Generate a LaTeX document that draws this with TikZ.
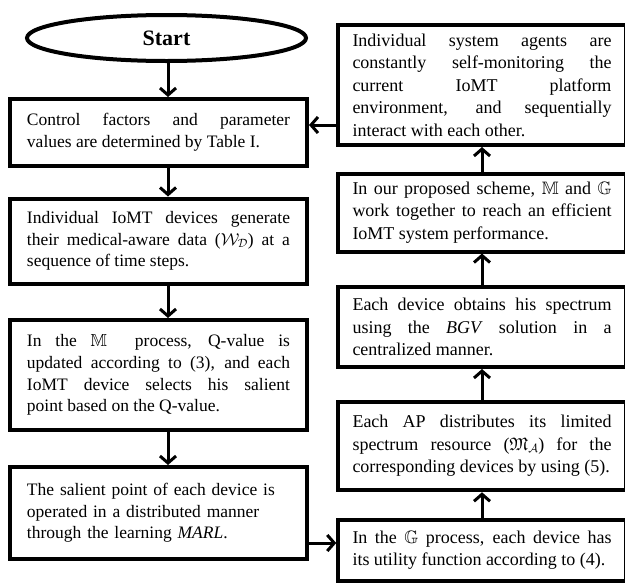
\documentclass[tikz,border=0pt]{standalone}
\usepackage{amssymb}
\usepackage{fontspec}
\setmainfont{Liberation Serif}
\usetikzlibrary{shapes.geometric,arrows.meta}
\tikzset{
  box/.style={draw, line width=4pt, inner sep=0pt, fill=white, align=justify,
    execute at begin node={\hyphenpenalty=10000\exhyphenpenalty=10000\tolerance=10000}},
  lbox/.style={box, minimum width=297pt, text width=263pt, font=\fontsize{17.5}{21.7}\selectfont},
  rbox/.style={box, minimum width=287.5pt, text width=259pt, font=\fontsize{18}{22.5}\selectfont},
  arr/.style={line width=3pt, -{Straight Barb[length=7pt,width=16pt]}}
}
\begin{document}
\begin{tikzpicture}[x=1pt,y=-1pt]
\useasboundingbox (0,0) rectangle (625,584);
\fill[white] (0,0) rectangle (625,584);

\node[draw, ellipse, line width=4pt, minimum width=279pt, minimum height=46pt, inner sep=0pt,
  font=\fontsize{22}{26}\selectfont\bfseries] (start) at (166.5,38) {Start};

\node[lbox, minimum height=67pt] (n1) at (158.5,132.5)
 {Control factors and parameter\linebreak values are determined by Table I.};
\node[lbox, minimum height=85pt] (n2) at (158.5,241)
 {Individual IoMT devices generate\linebreak their medical-aware data ($\mathcal{W}_{\mathcal{D}}$) at a\linebreak sequence of time steps.};
\node[lbox, minimum height=110pt] (n3) at (158.5,375)
 {In the $\mathbb{M}$\ \ process, Q-value is\linebreak updated according to (3), and each\linebreak IoMT device selects his salient\linebreak point based on the Q-value.};
\node[lbox, minimum height=92pt, align=left] (n4) at (158.5,513)
 {The salient point of each device is\\operated in a distributed manner\\through the learning \textit{MARL}.};

\node[rbox, minimum height=120pt] (r1) at (482,85)
 {Individual system agents are\linebreak constantly self-monitoring the\linebreak current IoMT platform\linebreak environment, and sequentially\linebreak interact with each other.};
\node[rbox, minimum height=78pt] (r2) at (482,212.5)
 {In our proposed scheme, $\mathbb{M}$ and $\mathbb{G}$\linebreak work together to reach an efficient\linebreak IoMT system performance.};
\node[rbox, minimum height=80pt] (r3) at (482,327)
 {Each device obtains his spectrum\linebreak using the \textit{BGV} solution in a\linebreak centralized manner.};
\node[rbox, minimum height=88.5pt] (r4) at (482,446)
 {Each AP distributes its limited\linebreak spectrum resource ($\mathfrak{M}_{\mathcal{A}}$) for the\linebreak corresponding devices by using (5).};
\node[rbox, minimum height=61pt] (r5) at (482,550)
 {In the $\mathbb{G}$ process, each device has\linebreak its utility function according to (4).};

\draw[arr] ([xshift=1.5pt]start.south) -- ([xshift=9.5pt]n1.north);
\draw[arr] ([xshift=9.5pt]n1.south) -- ([xshift=9.5pt]n2.north);
\draw[arr] ([xshift=9.5pt]n2.south) -- ([xshift=9.5pt]n3.north);
\draw[arr] ([xshift=9.5pt]n3.south) -- ([xshift=9.5pt]n4.north);
\draw[arr] ([yshift=-30pt]n4.east) -- ([yshift=-30pt]n4.east -| r5.west);
\draw[arr] (r5.north) -- (r4.south);
\draw[arr] (r4.north) -- (r3.south);
\draw[arr] (r3.north) -- (r2.south);
\draw[arr] (r2.north) -- (r1.south);
\draw[arr] ([yshift=-40pt]r1.west) -- ([yshift=-40pt]r1.west -| n1.east);
\end{tikzpicture}
\end{document}
